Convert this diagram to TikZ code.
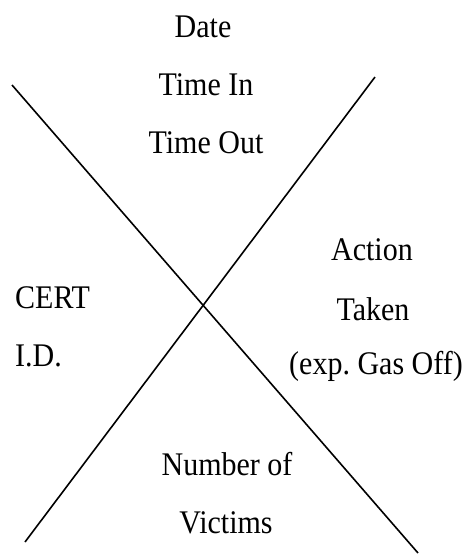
\documentclass[tikz,border=0pt]{standalone}
\usepackage{fontspec}
\setmainfont{Liberation Serif}
% slightly tall lettering
\newcommand{\tallt}[1]{\scalebox{1}[1.1]{#1}}
\begin{document}
\frenchspacing
\begin{tikzpicture}[x=1pt,y=-1pt,
  lbl/.style={anchor=base,inner sep=0pt,font=\fontsize{30}{35}\selectfont},
  cross/.style={line width=1.6pt}]
\useasboundingbox (0,0) rectangle (464,555);
% the two crossing diagonals
\coordinate (a1) at (12,85);
\coordinate (a2) at (418,553);
\coordinate (b1) at (375,77);
\coordinate (b2) at (25,542);
\draw[cross] (a1) -- (a2);
\draw[cross] (b1) -- (b2);
% top quadrant
\node[lbl] (date) at (203,37) {\tallt{Date}};
\node[lbl] (tin) at (206,95) {\tallt{Time In}};
\node[lbl] (tout) at (206,153) {\tallt{Time Out}};
% right quadrant
\node[lbl] (act) at (372,260) {\tallt{Action}};
\node[lbl] (tak) at (373,320) {\tallt{Taken}};
\node[lbl] (exp) at (376,374) {\tallt{(exp. Gas Off)}};
% left quadrant
\node[lbl,anchor=base west] (cert) at (15,308) {\tallt{CERT}};
\node[lbl,anchor=base west] (id) at (15,366) {\tallt{I.D.}};
% bottom quadrant
\node[lbl] (num) at (227,475) {\tallt{Number of}};
\node[lbl] (vic) at (226,533) {\tallt{Victims}};
\end{tikzpicture}
\end{document}
